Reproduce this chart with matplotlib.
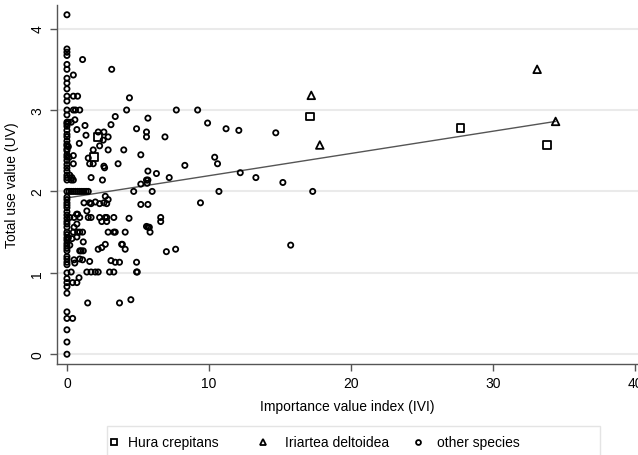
import matplotlib

matplotlib.use("Agg")
import matplotlib.pyplot as plt
from matplotlib.lines import Line2D
from matplotlib.patches import Rectangle

plt.rcParams["font.family"] = ["Liberation Sans", "DejaVu Sans"]

# Hura crepitans (squares)
hura_ivi = [1.9, 2.2, 17.1, 27.7, 33.8]
hura_uv = [2.42, 2.67, 2.92, 2.78, 2.57]

# Iriartea deltoidea (triangles)
iriartea_ivi = [17.2, 17.8, 33.1, 34.4]
iriartea_uv = [3.18, 2.57, 3.50, 2.86]

# other species, column at IVI ~ 0
zero_uv = [4.17, 3.75, 3.71, 3.67, 3.56, 3.50, 3.39, 3.33, 3.26, 3.17, 3.11, 3.0,
           2.94, 2.85, 2.83, 2.80, 2.75, 2.70, 2.67, 2.62, 2.58, 2.56, 2.52, 2.50,
           2.45, 2.42, 2.38, 2.33, 2.29, 2.25, 2.20, 2.17, 2.14, 2.0, 1.93, 1.90,
           1.86, 1.83, 1.80, 1.75, 1.71, 1.67, 1.63, 1.60, 1.56, 1.50, 1.47, 1.43,
           1.40, 1.36, 1.33, 1.30, 1.27, 1.20, 1.17, 1.13, 1.10, 1.00, 0.93, 0.88,
           0.83, 0.75, 0.52, 0.44, 0.30, 0.15, 0.0]

# other species, the rest
other_ivi = [0.1, 0.1, 0.15, 0.45, 0.75, 0.45, 0.6, 0.9, 0.45, 1.1, 0.56, 0.3,
             1.27, 0.7, 1.34, 0.87, 0.45, 0.45, 1.5, 1.6, 1.85, 1.7, 2.5, 0.2,
             0.35, 0.3, 0.45, 2.6, 2.65, 2.2, 2.6, 2.9, 2.55, 2.3, 1.85, 2.9,
             4.0, 3.6,
             0.15, 0.3, 0.45, 0.6, 0.75, 0.9, 1.05, 1.2, 1.35, 1.5,
             2.7, 2.9, 1.2, 1.6, 1.7, 2.0, 2.3, 2.6, 2.8, 1.4, 0.68, 0.75,
             0.2, 0.5, 0.9, 1.5, 1.7, 2.3, 2.7, 2.8, 3.3, 2.45, 2.8, 0.7, 0.5,
             0.45, 0.75, 0.9, 1.1, 2.9, 3.3, 3.4, 4.1,
             0.1, 0.35, 0.7, 1.15, 0.2, 2.2, 2.45, 2.7, 3.85, 4.1, 0.9, 1.0, 1.15,
             0.5, 0.9, 1.1, 1.6, 0.55, 3.1, 3.4, 3.7, 4.9,
             0.3, 1.4, 1.7, 2.0, 2.2, 3.0, 3.3, 4.9, 4.95,
             0.85, 0.4, 0.7, 0.4, 1.46, 3.7, 4.5,
             3.15, 4.4, 4.2, 7.7, 9.2, 3.4, 3.1, 5.7, 4.9, 9.9, 5.6, 5.6, 6.9,
             11.2, 12.1, 14.7, 5.2, 10.4, 10.6, 8.3, 5.7, 6.3, 7.2, 12.2, 13.3,
             15.2, 5.6, 5.7, 5.65, 5.2, 4.7, 6.0, 10.7, 17.3, 9.4, 15.75, 5.2,
             5.7, 4.37, 5.6, 5.7, 5.8, 5.85, 6.6, 6.6, 7.0, 7.65, 3.9]
other_uv = [2.85, 2.55, 2.42, 3.17, 3.17, 3.0, 3.0, 3.0, 3.43, 3.62, 2.88, 2.85,
            2.81, 2.76, 2.69, 2.59, 2.44, 2.34, 2.41, 2.34, 2.34, 2.17, 2.14, 2.2,
            2.17, 2.14, 2.14, 2.31, 2.29, 2.73, 2.73, 2.67, 2.63, 2.56, 2.51, 2.51,
            2.51, 2.34,
            2.0, 2.0, 2.0, 2.0, 2.0, 2.0, 2.0, 2.0, 2.0, 2.0,
            1.94, 1.9, 1.86, 1.86, 1.85, 1.87, 1.85, 1.86, 1.85, 1.76, 1.72, 1.72,
            1.68, 1.68, 1.68, 1.68, 1.68, 1.68, 1.68, 1.68, 1.68, 1.63, 1.63, 1.6, 1.56,
            1.5, 1.5, 1.5, 1.5, 1.5, 1.5, 1.5, 1.5,
            1.43, 1.42, 1.44, 1.38, 1.34, 1.29, 1.31, 1.35, 1.35, 1.29, 1.27, 1.27, 1.27,
            1.16, 1.17, 1.16, 1.14, 1.12, 1.15, 1.13, 1.13, 1.13,
            1.01, 1.01, 1.01, 1.01, 1.01, 1.01, 1.01, 1.01, 1.01,
            0.94, 0.88, 0.88, 0.44, 0.63, 0.63, 0.67,
            3.5, 3.15, 3.0, 3.0, 3.0, 2.92, 2.82, 2.9, 2.77, 2.84, 2.73, 2.67, 2.67,
            2.77, 2.75, 2.72, 2.45, 2.42, 2.34, 2.32, 2.25, 2.22, 2.17, 2.23, 2.17,
            2.11, 2.14, 2.14, 2.1, 2.09, 2.0, 2.0, 2.0, 2.0, 1.86, 1.34, 1.84,
            1.84, 1.67, 1.57, 1.56, 1.56, 1.5, 1.68, 1.63, 1.26, 1.29, 1.35]

# fitted line end points
fit_ivi = [0.0, 34.4]
fit_uv = [1.92, 2.86]

y_ticks = [0, 1, 2, 3, 4]
x_ticks = [0, 10, 20, 30, 40]
legend_labels = ["Hura crepitans", "Iriartea deltoidea", "other species"]

W, H = 638, 456


def fx(px):
    return px / W


def fy(py):
    return 1 - py / H


all_ivi = [0.0] * len(zero_uv) + other_ivi
all_uv = zero_uv + other_uv

fig = plt.figure(figsize=(W / 100, H / 100), dpi=100)
ax = fig.add_axes([fx(57), fy(365), 1 - fx(57), (365 - 6) / H])

ax.plot(fit_ivi, fit_uv, color="#555555", linewidth=1.0, zorder=2)
marker_style = dict(facecolors="none", edgecolors="black", zorder=3)
ax.scatter(all_ivi, all_uv, marker="o", s=14, linewidths=1.3, **marker_style)
ax.scatter(hura_ivi, hura_uv, marker="s", s=30, linewidths=1.3, **marker_style)
ax.scatter(iriartea_ivi, iriartea_uv, marker="^", s=30, linewidths=1.3, **marker_style)

ax.set_xlim(-0.7, 40.2)
ax.set_ylim(-0.12, 4.29)
ax.set_xticks(x_ticks)
ax.set_yticks(y_ticks)
ax.set_yticklabels([str(t) for t in y_ticks], rotation=90, va="center")
ax.tick_params(direction="out", length=5, width=1, color="#555555", labelsize=10, pad=4)
ax.grid(axis="y", color="#eaeaea", linewidth=1.5, zorder=0)
ax.set_axisbelow(True)
for side in ("top", "right"):
    ax.spines[side].set_visible(False)
for side in ("left", "bottom"):
    ax.spines[side].set_color("#555555")
    ax.spines[side].set_linewidth(1.0)

ax.set_xlabel("Importance value index (IVI)", fontsize=10, labelpad=6)
ax.set_ylabel("Total use value (UV)", fontsize=10, labelpad=8)

# legend box drawn by hand (Stata-style, runs off the bottom edge)
fig.add_artist(Rectangle((fx(107), fy(470)), fx(600) - fx(107), (470 - 427) / H,
                         transform=fig.transFigure, facecolor="white",
                         edgecolor="#e4e4e4", linewidth=1.0))
legend_markers = [("s", 4.0), ("^", 4.5), ("o", 3.5)]
marker_x = [114, 263, 418]
text_x = [128, 285, 437]
for (marker, size), mx, tx, label in zip(legend_markers, marker_x, text_x, legend_labels):
    fig.add_artist(Line2D([fx(mx)], [fy(443)], transform=fig.transFigure, marker=marker,
                          linestyle="none", markerfacecolor="none", markeredgecolor="black",
                          markersize=size, markeredgewidth=1.3))
    fig.text(fx(tx), fy(443), label, fontsize=10, va="center", ha="left")

fig.savefig("out.png", dpi=100)
